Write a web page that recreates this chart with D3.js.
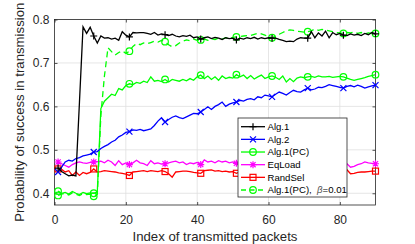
<!DOCTYPE html>
<meta charset="utf-8">
<body style="margin:0;background:#fff">
<script src="https://cdn.jsdelivr.net/npm/d3@7"></script>
<svg></svg>
<script>
    var width = 415;
    var height = 244;

    // ---- data: one value per transmitted packet, x = 1..90 ----
    var alg1 = [0.458,0.450,0.445,0.440,0.442,0.440,0.610,0.783,0.768,0.782,
        0.762,0.746,0.762,0.757,0.758,0.755,0.757,0.752,0.772,0.764,
        0.760,0.770,0.769,0.770,0.770,0.768,0.766,0.770,0.764,0.767,
        0.765,0.763,0.766,0.762,0.760,0.763,0.761,0.764,0.758,0.760,
        0.755,0.758,0.760,0.756,0.759,0.757,0.754,0.758,0.756,0.757,
        0.753,0.757,0.755,0.758,0.756,0.759,0.755,0.758,0.756,0.758,
        0.757,0.757,0.754,0.752,0.749,0.750,0.749,0.755,0.758,0.757,
        0.757,0.772,0.758,0.769,0.762,0.773,0.758,0.770,0.765,0.768,
        0.764,0.763,0.767,0.764,0.766,0.763,0.768,0.765,0.770,0.767];
    var alg2 = [0.449,0.460,0.472,0.476,0.474,0.480,0.482,0.486,0.488,0.490,
        0.495,0.496,0.503,0.508,0.512,0.518,0.522,0.530,0.534,0.540,
        0.542,0.546,0.545,0.547,0.544,0.546,0.548,0.556,0.566,0.574,
        0.564,0.570,0.575,0.578,0.574,0.572,0.576,0.580,0.584,0.583,
        0.587,0.593,0.599,0.593,0.600,0.604,0.610,0.600,0.605,0.608,
        0.610,0.614,0.612,0.616,0.618,0.615,0.622,0.620,0.626,0.624,
        0.622,0.628,0.633,0.630,0.626,0.632,0.637,0.634,0.633,0.638,
        0.642,0.638,0.640,0.644,0.643,0.646,0.650,0.648,0.646,0.644,
        0.642,0.646,0.648,0.645,0.649,0.646,0.642,0.645,0.647,0.649];
    var alg1pc = [0.405,0.400,0.402,0.398,0.404,0.400,0.397,0.402,0.399,0.401,
        0.400,0.403,0.595,0.612,0.620,0.628,0.625,0.641,0.638,0.648,
        0.652,0.650,0.655,0.653,0.658,0.655,0.668,0.658,0.660,0.657,
        0.662,0.656,0.662,0.660,0.658,0.662,0.659,0.664,0.660,0.668,
        0.672,0.664,0.670,0.662,0.668,0.660,0.670,0.664,0.667,0.665,
        0.673,0.668,0.672,0.664,0.671,0.663,0.668,0.672,0.664,0.668,
        0.670,0.667,0.662,0.670,0.656,0.664,0.657,0.665,0.668,0.666,
        0.668,0.669,0.667,0.670,0.668,0.668,0.669,0.667,0.668,0.669,
        0.668,0.665,0.662,0.660,0.662,0.664,0.666,0.669,0.671,0.673];
    var eqLoad = [0.472,0.468,0.464,0.460,0.466,0.470,0.472,0.470,0.469,0.471,
        0.472,0.473,0.474,0.470,0.476,0.472,0.464,0.475,0.466,0.470,
        0.466,0.470,0.476,0.470,0.468,0.464,0.475,0.468,0.470,0.467,
        0.468,0.470,0.472,0.474,0.470,0.472,0.466,0.470,0.468,0.471,
        0.466,0.477,0.472,0.474,0.470,0.475,0.472,0.474,0.470,0.472,
        0.469,0.472,0.470,0.473,0.468,0.471,0.474,0.470,0.472,0.469,
        0.470,0.472,0.468,0.471,0.473,0.469,0.470,0.472,0.468,0.470,
        0.471,0.469,0.472,0.470,0.468,0.471,0.473,0.470,0.469,0.466,
        0.465,0.468,0.460,0.462,0.466,0.468,0.472,0.470,0.469,0.468];
    var randSel = [0.456,0.455,0.449,0.452,0.441,0.449,0.441,0.448,0.445,0.448,
        0.456,0.449,0.450,0.452,0.451,0.450,0.449,0.447,0.446,0.444,
        0.441,0.449,0.450,0.451,0.452,0.450,0.452,0.451,0.450,0.452,
        0.450,0.445,0.437,0.449,0.450,0.451,0.451,0.450,0.448,0.447,
        0.446,0.452,0.453,0.454,0.451,0.452,0.450,0.451,0.449,0.450,
        0.446,0.449,0.451,0.450,0.452,0.449,0.451,0.450,0.448,0.450,
        0.449,0.451,0.450,0.448,0.450,0.452,0.449,0.451,0.450,0.449,
        0.451,0.450,0.449,0.452,0.450,0.451,0.449,0.450,0.452,0.451,
        0.452,0.454,0.445,0.446,0.448,0.449,0.449,0.450,0.451,0.451];
    var alg1pcBeta = [0.395,0.398,0.400,0.396,0.401,0.398,0.395,0.399,0.397,0.398,
        0.393,0.398,0.580,0.670,0.735,0.726,0.718,0.724,0.728,0.722,
        0.727,0.738,0.745,0.742,0.746,0.744,0.747,0.750,0.748,0.752,
        0.749,0.742,0.737,0.740,0.746,0.750,0.753,0.751,0.755,0.752,
        0.753,0.755,0.752,0.756,0.754,0.757,0.755,0.758,0.756,0.759,
        0.760,0.761,0.762,0.763,0.763,0.766,0.768,0.767,0.764,0.760,
        0.758,0.762,0.766,0.770,0.774,0.776,0.775,0.773,0.772,0.771,
        0.772,0.774,0.778,0.775,0.777,0.776,0.774,0.772,0.770,0.769,
        0.768,0.770,0.769,0.771,0.768,0.770,0.767,0.769,0.768,0.768];

    var seriesNames = ["Alg.1", "Alg.2", "Alg.1(PC)", "EqLoad", "RandSel", "Alg.1(PC),  "];
    var xTicks = [0, 20, 40, 60, 80];
    var yTicks = [0.4, 0.5, 0.6, 0.7, 0.8];
    var markerIdx = [1, 11, 21, 31, 41, 51, 61, 71, 81, 90];

    var series = [
        {name: seriesNames[0], values: alg1, color: "#000000", marker: "plus", dash: null},
        {name: seriesNames[1], values: alg2, color: "#0000ff", marker: "cross", dash: null},
        {name: seriesNames[2], values: alg1pc, color: "#00ff00", marker: "circle", dash: null},
        {name: seriesNames[3], values: eqLoad, color: "#ff00ff", marker: "star", dash: null},
        {name: seriesNames[4], values: randSel, color: "#ff0000", marker: "square", dash: null},
        {name: seriesNames[5], values: alg1pcBeta, color: "#00ff00", marker: "circle", dash: "6,4"}
    ];

    var font = "'Liberation Sans', Arial, Helvetica, sans-serif";
    var axisColor = "#262626";

    var svg = d3.select("svg")
        .attr("width", width)
        .attr("height", height)
        .style("display", "block")
        .style("font-family", font);

    var pLeft = 54.5, pRight = 375.5, pTop = 19.5, pBottom = 205;

    var x = d3.scaleLinear().domain([0, 90]).range([pLeft, pRight]);
    var y = d3.scaleLinear().domain([0.373, 0.8]).range([pBottom, pTop]);

    svg.append("rect").attr("x", pLeft).attr("y", pTop)
        .attr("width", pRight - pLeft).attr("height", pBottom - pTop).attr("fill", "#fff");

    // grid
    svg.append("g").selectAll("line").data(xTicks.slice(1)).enter().append("line")
        .attr("x1", x).attr("x2", x).attr("y1", pTop).attr("y2", pBottom)
        .attr("stroke", "#dfdfdf").attr("stroke-width", 0.8);
    svg.append("g").selectAll("line").data(yTicks).enter().append("line")
        .attr("y1", y).attr("y2", y).attr("x1", pLeft).attr("x2", pRight)
        .attr("stroke", "#dfdfdf").attr("stroke-width", 0.8);

    // axes (ticks inside, on all four sides)
    var xAxis = svg.append("g").attr("transform", "translate(0," + pBottom + ")")
        .call(d3.axisBottom(x).tickValues(xTicks).tickSize(-3).tickPadding(10).tickFormat(d3.format("d")));
    var xAxisTop = svg.append("g").attr("transform", "translate(0," + pTop + ")")
        .call(d3.axisTop(x).tickValues(xTicks).tickSize(-3).tickFormat(""));
    var yAxis = svg.append("g").attr("transform", "translate(" + pLeft + ",0)")
        .call(d3.axisLeft(y).tickValues(yTicks).tickSize(-3).tickPadding(5).tickFormat(d3.format(".1f")));
    var yAxisRight = svg.append("g").attr("transform", "translate(" + pRight + ",0)")
        .call(d3.axisRight(y).tickValues(yTicks).tickSize(-3).tickFormat(""));

    [xAxis, xAxisTop, yAxis, yAxisRight].forEach(function(g) {
        g.select(".domain").remove();
        g.selectAll("line").attr("stroke", axisColor).attr("stroke-width", 0.8);
        g.selectAll("text").attr("fill", axisColor).style("font-size", "12px").style("font-family", font);
    });

    svg.append("rect").attr("x", pLeft).attr("y", pTop)
        .attr("width", pRight - pLeft).attr("height", pBottom - pTop)
        .attr("fill", "none").attr("stroke", axisColor).attr("stroke-width", 0.8);

    // markers
    function drawMarker(g, type, color, cx, cy) {
        var s = 3.5;
        if (type === "plus") {
            g.append("path").attr("d", "M" + (cx - s) + "," + cy + "H" + (cx + s) + "M" + cx + "," + (cy - s) + "V" + (cy + s))
                .attr("stroke", color).attr("stroke-width", 1.2).attr("fill", "none");
        } else if (type === "cross") {
            var c = 3;
            g.append("path").attr("d", "M" + (cx - c) + "," + (cy - c) + "L" + (cx + c) + "," + (cy + c) + "M" + (cx - c) + "," + (cy + c) + "L" + (cx + c) + "," + (cy - c))
                .attr("stroke", color).attr("stroke-width", 1.2).attr("fill", "none");
        } else if (type === "circle") {
            g.append("circle").attr("cx", cx).attr("cy", cy).attr("r", 3.3)
                .attr("stroke", color).attr("stroke-width", 1.2).attr("fill", "none");
        } else if (type === "square") {
            g.append("rect").attr("x", cx - 3).attr("y", cy - 3).attr("width", 6).attr("height", 6)
                .attr("stroke", color).attr("stroke-width", 1.2).attr("fill", "none");
        } else if (type === "star") {
            var c2 = 2.6;
            g.append("path").attr("d", "M" + (cx - s) + "," + cy + "H" + (cx + s) + "M" + cx + "," + (cy - s) + "V" + (cy + s) +
                "M" + (cx - c2) + "," + (cy - c2) + "L" + (cx + c2) + "," + (cy + c2) + "M" + (cx - c2) + "," + (cy + c2) + "L" + (cx + c2) + "," + (cy - c2))
                .attr("stroke", color).attr("stroke-width", 1.2).attr("fill", "none");
        }
    }

    var line = d3.line().x(function(d, i) { return x(i + 1); }).y(function(d) { return y(d); });

    var plot = svg.append("g");
    // draw in reverse so Alg.1 ends up on top
    series.slice().reverse().forEach(function(s) {
        plot.append("path").datum(s.values).attr("d", line)
            .attr("fill", "none").attr("stroke", s.color).attr("stroke-width", 1.3)
            .attr("stroke-dasharray", s.dash);
        markerIdx.forEach(function(k) {
            drawMarker(plot, s.marker, s.color, x(k), y(s.values[k - 1]));
        });
    });

    // axis labels
    svg.append("text").attr("x", (pLeft + pRight) / 2).attr("y", 241)
        .attr("text-anchor", "middle").attr("fill", axisColor).style("font-size", "13.2px")
        .text("Index of transmitted packets");
    svg.append("text").attr("transform", "translate(24," + (pTop + pBottom) / 2 + ") rotate(-90)")
        .attr("text-anchor", "middle").attr("fill", axisColor).style("font-size", "13.2px")
        .text("Probability of success in transmission");

    // legend
    var lg = svg.append("g");
    lg.append("rect").attr("x", 238).attr("y", 118).attr("width", 109).attr("height", 79)
        .attr("fill", "#fff").attr("stroke", axisColor).attr("stroke-width", 0.8);
    series.forEach(function(s, i) {
        var ly = 126.7 + i * 12.66;
        lg.append("line").attr("x1", 241).attr("x2", 265).attr("y1", ly).attr("y2", ly)
            .attr("stroke", s.color).attr("stroke-width", 1.3).attr("stroke-dasharray", s.dash ? "5,3.5" : null);
        drawMarker(lg, s.marker, s.color, 253, ly);
        var t = lg.append("text").attr("x", 267.5).attr("y", ly + 3.4)
            .attr("fill", "#000").style("font-size", "9.6px").style("white-space", "pre").text(s.name);
        if (i === 5) {
            t.append("tspan").style("font-style", "italic").attr("fill", "#555").text("\u03b2");
            t.append("tspan").text("=0.01");
        }
    });
</script>
